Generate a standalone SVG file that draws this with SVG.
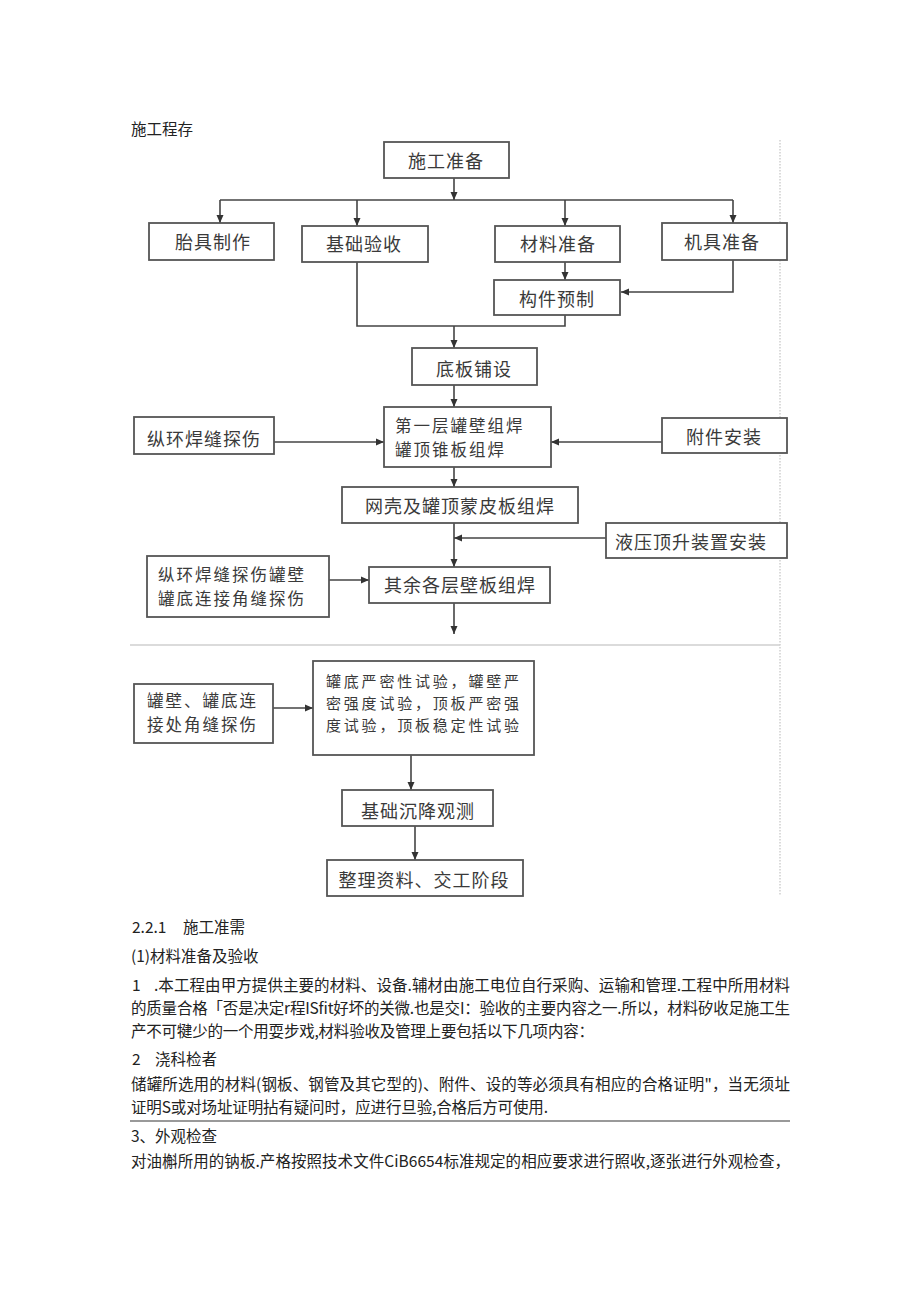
<svg xmlns="http://www.w3.org/2000/svg" width="920" height="1301" viewBox="0 0 920 1301">
<defs>
<marker id="ah" markerWidth="8" markerHeight="8" refX="8" refY="4" orient="auto" markerUnits="userSpaceOnUse">
<path d="M0,0.5 L8,4 L0,7.5 z" fill="#333"/>
</marker>
<style>
.box{fill:#fff;stroke:#555;stroke-width:1.8}
.bt{font-family:"Noto Sans CJK SC","Noto Sans",sans-serif;font-size:18px;letter-spacing:1px;fill:#3a3a3a}
.bt2{font-size:16.5px;letter-spacing:2px}
.bt3{font-size:15px;letter-spacing:2.8px}
.mid{text-anchor:middle}
.cn{fill:none;stroke:#444;stroke-width:1.6}
.ar{marker-end:url(#ah)}
.body{font-family:"Noto Sans CJK SC","Liberation Sans",sans-serif;font-size:15.5px;fill:#222}
.guide{fill:none;stroke:#cfcfcf;stroke-width:1.5}
</style>
</defs>
<rect width="920" height="1301" fill="#fff"/>

<g id="guides">
<line class="guide" x1="780" y1="140" x2="780" y2="896" stroke-dasharray="1.5 1.5"/>
<line class="guide" x1="130" y1="645" x2="780" y2="645" stroke-width="2"/>
</g>

<text class="body" x="131" y="135">施工程存</text>

<g id="connectors">
<path class="cn ar" d="M454,178 V200"/>
<path class="cn" d="M220,200 H733"/>
<path class="cn ar" d="M220,200 V223"/>
<path class="cn ar" d="M357,200 V226"/>
<path class="cn ar" d="M565,200 V226"/>
<path class="cn ar" d="M733,200 V223" stroke-width="2.2"/>
<path class="cn ar" d="M565,262 V280"/>
<path class="cn ar" d="M733,260 V292 H621" stroke-width="2.2"/>
<path class="cn" d="M357,262 V326 H565 V315"/>
<path class="cn ar" d="M454,326 V348"/>
<path class="cn ar" d="M454,385 V407"/>
<path class="cn ar" d="M274,442 H384"/>
<path class="cn ar" d="M662,442 H551"/>
<path class="cn ar" d="M454,467 V487"/>
<path class="cn ar" d="M454,523 V567"/>
<path class="cn ar" d="M606,538 H454" stroke-width="3"/>
<path class="cn ar" d="M329,580 H369"/>
<path class="cn ar" d="M454,603 V634"/>
<path class="cn ar" d="M273,708 H313"/>
<path class="cn ar" d="M411,755 V790"/>
<path class="cn ar" d="M415,826 V860"/>
</g>

<g id="n-prep">
<rect class="box" x="384" y="142" width="125" height="36"/>
<text class="bt mid" x="446" y="168">施工准备</text>
</g>
<g id="n-taiju">
<rect class="box" x="149" y="223" width="125" height="37"/>
<text class="bt mid" x="213" y="249">胎具制作</text>
</g>
<g id="n-jichu">
<rect class="box" x="302" y="226" width="126" height="36"/>
<text class="bt mid" x="364" y="251">基础验收</text>
</g>
<g id="n-cailiao">
<rect class="box" x="495" y="226" width="125" height="36"/>
<text class="bt mid" x="558" y="251">材料准备</text>
</g>
<g id="n-jiju">
<rect class="box" x="662" y="223" width="125" height="37"/>
<text class="bt mid" x="722" y="249">机具准备</text>
</g>
<g id="n-goujian">
<rect class="box" x="494" y="280" width="126" height="35"/>
<text class="bt mid" x="557" y="306">构件预制</text>
</g>
<g id="n-diban">
<rect class="box" x="412" y="348" width="125" height="37"/>
<text class="bt mid" x="474" y="376">底板铺设</text>
</g>
<g id="n-first">
<rect class="box" x="384" y="407" width="167" height="60"/>
<text class="bt bt2" x="395" y="432">第一层罐壁组焊</text>
<text class="bt bt2" x="395" y="456">罐顶锥板组焊</text>
</g>
<g id="n-tanshang1">
<rect class="box" x="134" y="417" width="140" height="37"/>
<text class="bt" x="147" y="446">纵环焊缝探伤</text>
</g>
<g id="n-fujian">
<rect class="box" x="662" y="418" width="125" height="35"/>
<text class="bt mid" x="724" y="444">附件安装</text>
</g>
<g id="n-wangke">
<rect class="box" x="342" y="487" width="236" height="36"/>
<text class="bt mid" x="460" y="513">网壳及罐顶蒙皮板组焊</text>
</g>
<g id="n-yeya">
<rect class="box" x="606" y="523" width="181" height="35"/>
<text class="bt mid" x="691" y="549">液压顶升装置安装</text>
</g>
<g id="n-tanshang2">
<rect class="box" x="147" y="556" width="182" height="61"/>
<text class="bt bt2" x="158" y="581">纵环焊缝探伤罐壁</text>
<text class="bt bt2" x="158" y="605">罐底连接角缝探伤</text>
</g>
<g id="n-qiyu">
<rect class="box" x="369" y="567" width="181" height="36"/>
<text class="bt mid" x="460" y="592">其余各层壁板组焊</text>
</g>
<g id="n-jiaofeng">
<rect class="box" x="134" y="684" width="139" height="59"/>
<text class="bt bt2" x="147" y="707">罐壁、罐底连</text>
<text class="bt bt2" x="147" y="731">接处角缝探伤</text>
</g>
<g id="n-shiyan">
<rect class="box" x="313" y="661" width="221" height="94"/>
<text class="bt bt3" x="326" y="687">罐底严密性试验，罐壁严</text>
<text class="bt bt3" x="326" y="709">密强度试验，顶板严密强</text>
<text class="bt bt3" x="326" y="731">度试验，顶板稳定性试验</text>
</g>
<g id="n-chenjiang">
<rect class="box" x="342" y="790" width="151" height="36"/>
<text class="bt mid" x="418" y="818">基础沉降观测</text>
</g>
<g id="n-zhengli">
<rect class="box" x="327" y="860" width="196" height="36"/>
<text class="bt mid" x="424" y="887">整理资料、交工阶段</text>
</g>

<g id="body-text">
<text class="body" x="132" y="933">2.2.1</text>
<text class="body" x="183" y="933">施工准需</text>
<text class="body" x="131" y="962">(1)材料准备及验收</text>
<text class="body" x="132" y="991">1</text>
<text class="body" x="154" y="991" textLength="636" lengthAdjust="spacing">.本工程由甲方提供主要的材料、设备.辅材由施工电位自行采购、运输和管理.工程中所用材料</text>
<text class="body" x="131" y="1014" textLength="659" lengthAdjust="spacing">的质量合格「否是决定r程ISfit好坏的关微.也是交I：验收的主要内容之一.所以，材料矽收足施工生</text>
<text class="body" x="131" y="1037" textLength="463" lengthAdjust="spacing">产不可犍少的一个用耍步戏,材料验收及管理上要包括以下几项内容：</text>
<text class="body" x="132" y="1065">2</text>
<text class="body" x="155" y="1065">浇科检者</text>
<text class="body" x="131" y="1090" textLength="659" lengthAdjust="spacing">储罐所选用的材料(钢板、钢管及其它型的)、附件、设的等必须具有相应的合格证明"，当无须址</text>
<text class="body" x="131" y="1113" textLength="417" lengthAdjust="spacing">证明S或对场址证明拈有疑问时，应进行旦验,合格后方可使用.</text>
<line x1="130" y1="1121" x2="790" y2="1121" stroke="#777" stroke-width="1.5"/>
<text class="body" x="131" y="1142">3、外观检查</text>
<text class="body" x="131" y="1167" textLength="659" lengthAdjust="spacing">对油槲所用的钠板.产格按照技术文件CiB6654标准规定的相应要求进行照收,逐张进行外观检查，</text>
</g>
</svg>
